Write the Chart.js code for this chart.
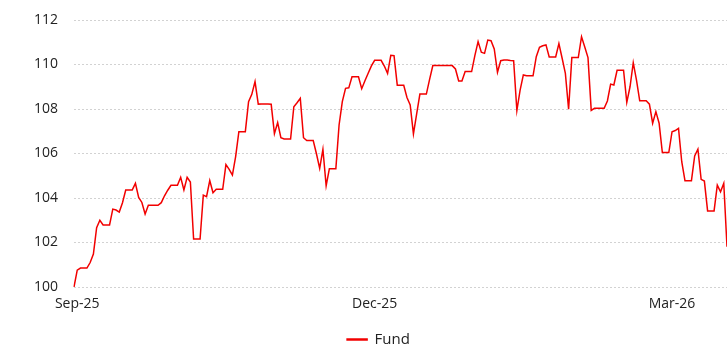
<!DOCTYPE html>
<html>
<head>
<meta charset="utf-8">
<script src="https://cdn.jsdelivr.net/npm/chart.js@4.4.1/dist/chart.umd.min.js"></script>
<style>
  html, body { margin: 0; padding: 0; background: #fff; }
  #wrap { width: 727px; height: 345px; }
</style>
</head>
<body>
<div id="wrap"><canvas id="fundChart" width="727" height="345"></canvas></div>
<script>
/////////////////////////////// Data //////////////////////////////////

const seriesName = 'Fund';
const tickLabels = ['Sep-25', 'Dec-25', 'Mar-26'];

// daily index level, rebased to 100
const fundValues = [
    100.00, 100.76, 100.85, 100.85, 100.85, 101.10, 101.48, 102.67, 103.00, 102.79,
    102.79, 102.79, 103.50, 103.46, 103.37, 103.79, 104.36, 104.36, 104.36, 104.66,
    104.03, 103.80, 103.28, 103.67, 103.67, 103.67, 103.67, 103.79, 104.10, 104.35,
    104.57, 104.57, 104.57, 104.93, 104.36, 104.93, 104.72, 102.16, 102.16, 102.16,
    104.13, 104.06, 104.78, 104.24, 104.39, 104.39, 104.39, 105.50, 105.29, 105.03,
    105.86, 106.98, 106.98, 106.98, 108.33, 108.66, 109.23, 108.22, 108.23, 108.23,
    108.22, 108.21, 106.89, 107.39, 106.71, 106.65, 106.65, 106.65, 108.10, 108.28,
    108.48, 106.71, 106.58, 106.58, 106.58, 105.99, 105.33, 106.19, 104.55, 105.32,
    105.32, 105.32, 107.28, 108.33, 108.93, 108.95, 109.45, 109.45, 109.45, 108.91,
    109.27, 109.61, 109.94, 110.19, 110.19, 110.19, 109.93, 109.60, 110.41, 110.40,
    109.07, 109.07, 109.07, 108.52, 108.18, 106.88, 107.78, 108.67, 108.67, 108.67,
    109.33, 109.95, 109.95, 109.95, 109.95, 109.95, 109.95, 109.95, 109.80, 109.26,
    109.26, 109.68, 109.68, 109.68, 110.40, 111.03, 110.55, 110.50, 111.10, 111.07,
    110.70, 109.65, 110.17, 110.20, 110.20, 110.18, 110.17, 107.93, 108.85, 109.53,
    109.49, 109.49, 109.49, 110.35, 110.77, 110.84, 110.88, 110.34, 110.34, 110.34,
    110.94, 110.28, 109.60, 107.99, 110.31, 110.31, 110.31, 111.25, 110.79, 110.31,
    107.94, 108.03, 108.03, 108.03, 108.03, 108.36, 109.12, 109.08, 109.74, 109.74,
    109.74, 108.30, 109.00, 110.08, 109.30, 108.37, 108.37, 108.37, 108.22, 107.36,
    107.88, 107.36, 106.04, 106.04, 106.04, 106.98, 107.03, 107.13, 105.63, 104.78,
    104.78, 104.78, 105.89, 106.19, 104.84, 104.76, 103.42, 103.42, 103.42, 104.58,
    104.28, 104.66, 101.81
];

// one category per observation; a month label every 92 observations
const observations = fundValues.map((_, i) => i);
const tickStart = 1;
const tickStep = 92;

/////////////////////////////// Chart //////////////////////////////////

const fontFamily = '"Open Sans", "Noto Sans", sans-serif';
const textColor = '#222222';

var ctx = document.getElementById('fundChart').getContext('2d');

new Chart(ctx, {
    type: 'line',
    data: {
        labels: observations,
        datasets: [{
            label: seriesName,
            data: fundValues,
            borderColor: '#f20000',
            backgroundColor: '#f20000',
            borderWidth: 1.5,
            pointRadius: 0,
            tension: 0,
            fill: false
        }]
    },
    options: {
        responsive: false,
        animation: false,
        layout: {
            // legend sits tight against the bottom edge
            padding: { left: 30, right: 0, top: 20, bottom: -12 }
        },
        scales: {
            x: {
                grid: { display: false, drawTicks: false },
                border: { display: false },
                // keep only the three month ticks
                afterBuildTicks: axis => {
                    axis.ticks = tickLabels.map((_, k) => ({ value: tickStart + k * tickStep }));
                },
                afterFit: axis => { axis.height = 45; },
                ticks: {
                    autoSkip: false,
                    maxRotation: 0,
                    minRotation: 0,
                    padding: 9,
                    color: textColor,
                    font: { family: fontFamily, size: 14 },
                    callback: (value, index) => tickLabels[index]
                }
            },
            y: {
                min: 100,
                max: 112,
                grid: {
                    color: '#d2d2d2',
                    lineWidth: 1,
                    drawTicks: false
                },
                border: { display: false, dash: [2, 2] },
                afterFit: axis => {
                    axis.width = 44;
                    axis.paddingTop = 0;
                    axis.paddingBottom = 0;
                },
                ticks: {
                    stepSize: 2,
                    padding: 16,
                    color: textColor,
                    font: { family: fontFamily, size: 14 }
                }
            }
        },
        plugins: {
            legend: {
                position: 'bottom',
                labels: {
                    boxWidth: 20,
                    boxHeight: 1,
                    padding: 0,
                    color: textColor,
                    font: { family: fontFamily, size: 15 }
                }
            },
            tooltip: { enabled: false }
        }
    }
});
</script>
</body>
</html>
